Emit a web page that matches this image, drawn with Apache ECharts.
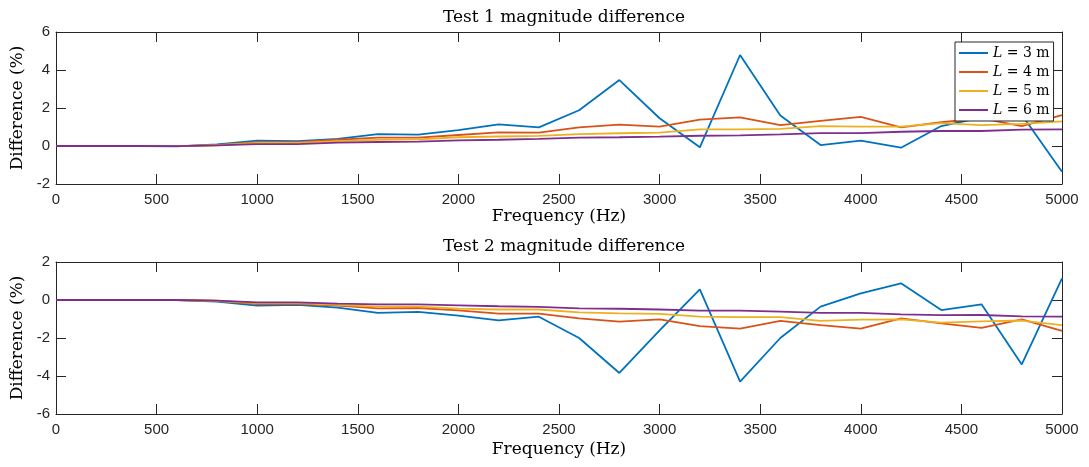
<!DOCTYPE html>
<html>
<head>
<meta charset="utf-8">
<script src="https://cdn.jsdelivr.net/npm/echarts@6/dist/echarts.min.js"></script>
<style>
html,body{margin:0;padding:0;background:#fff;}
#chart{width:1089px;height:467px;}
</style>
</head>
<body>
<div id="chart"></div>
<script>
// ---- data ----
const freqs = [0,200,400,600,800,1000,1200,1400,1600,1800,2000,2200,2400,2600,2800,3000,3200,3400,3600,3800,4000,4200,4400,4600,4800,5000];
const seriesNames = ['L = 3 m','L = 4 m','L = 5 m','L = 6 m'];
const xTicks = [0,500,1000,1500,2000,2500,3000,3500,4000,4500,5000];
const yTicksTop = [-2,0,2,4,6];
const yTicksBottom = [-6,-4,-2,0,2];

// Test 1
const t1L3 = [0,0,0,-0.02,0.08,0.28,0.26,0.38,0.63,0.6,0.84,1.14,0.98,1.88,3.47,1.46,-0.07,4.79,1.6,0.05,0.28,-0.09,1.05,1.5,1.65,-1.35];
const t1L4 = [0,0,0,-0.01,0.05,0.2,0.2,0.33,0.44,0.44,0.58,0.72,0.7,0.98,1.12,1.02,1.39,1.51,1.1,1.32,1.53,0.98,1.25,1.45,1.05,1.63];
const t1L5 = [0,0,0,-0.01,0.04,0.16,0.16,0.26,0.32,0.35,0.46,0.5,0.53,0.63,0.67,0.7,0.88,0.88,0.9,1.05,1.02,1.02,1.2,1.1,1.16,1.3];
const t1L6 = [0,0,0,-0.01,0.03,0.1,0.1,0.18,0.21,0.23,0.3,0.33,0.37,0.44,0.46,0.49,0.54,0.56,0.61,0.68,0.68,0.75,0.79,0.79,0.86,0.88];
// Test 2
const t2L3 = [0,0,0,0,-0.08,-0.3,-0.26,-0.4,-0.68,-0.62,-0.82,-1.07,-0.88,-2.0,-3.84,-1.6,0.56,-4.3,-2.0,-0.35,0.35,0.88,-0.53,-0.23,-3.39,1.14];
const t2L4 = [0,0,0,0,-0.05,-0.21,-0.2,-0.3,-0.44,-0.42,-0.55,-0.72,-0.72,-0.97,-1.14,-1.02,-1.37,-1.51,-1.1,-1.32,-1.51,-0.97,-1.23,-1.47,-1.02,-1.63];
const t2L5 = [0,0,0,0,-0.04,-0.16,-0.16,-0.26,-0.35,-0.35,-0.45,-0.5,-0.5,-0.65,-0.7,-0.73,-0.88,-0.9,-0.9,-1.1,-1.03,-1.02,-1.19,-1.12,-1.08,-1.32];
const t2L6 = [0,0,0,0,-0.03,-0.12,-0.12,-0.19,-0.23,-0.23,-0.28,-0.33,-0.36,-0.44,-0.46,-0.5,-0.56,-0.56,-0.61,-0.68,-0.68,-0.76,-0.8,-0.79,-0.86,-0.88];

const colors = ['#0072BD','#D95319','#EDB120','#7E2F8E'];
const test1 = [t1L3,t1L4,t1L5,t1L6];
const test2 = [t2L3,t2L4,t2L5,t2L6];

// ---- chart ----
const axisColor = '#262626';
const serif = 'DejaVu Serif';
const sans = 'Liberation Sans';
const grids = [
  {left:56, right:27, top:32, height:152},
  {left:56, right:27, top:262, height:152}
];
const yRanges = [[-2,6],[-6,2]];
const xNameGaps = [24, 27];

const xAxes = [], yAxes = [];
grids.forEach((g,i)=>{
  xAxes.push({
    type:'value', gridIndex:i, position:'bottom', min:0, max:5000, interval:500,
    name:'Frequency (Hz)', nameLocation:'middle', nameGap:xNameGaps[i],
    nameTextStyle:{fontFamily:serif, fontSize:17, color:'#000'},
    axisLine:{show:true, onZero:false, lineStyle:{color:axisColor, width:1}},
    axisTick:{show:true, inside:true, length:10, lineStyle:{color:axisColor}},
    axisLabel:{show:true, margin:8, fontFamily:sans, fontSize:15, color:axisColor,
      formatter:function(v){ return String(v); }},
    splitLine:{show:false}
  });
  xAxes.push({
    type:'value', gridIndex:i, position:'top', min:0, max:5000, interval:500,
    axisLine:{show:true, onZero:false, lineStyle:{color:axisColor, width:1}},
    axisTick:{show:true, inside:true, length:10, lineStyle:{color:axisColor}},
    axisLabel:{show:false}, splitLine:{show:false}
  });
  yAxes.push({
    type:'value', gridIndex:i, position:'left', min:yRanges[i][0], max:yRanges[i][1], interval:2,
    name:'Difference (%)', nameLocation:'middle', nameGap:26, nameRotate:90,
    nameTextStyle:{fontFamily:serif, fontSize:17, color:'#000'},
    axisLine:{show:true, onZero:false, lineStyle:{color:axisColor, width:1}},
    axisTick:{show:true, inside:true, length:10, lineStyle:{color:axisColor}},
    axisLabel:{show:true, margin:6, fontFamily:sans, fontSize:15, color:axisColor,
      formatter:function(v){ return String(v); }},
    splitLine:{show:false}
  });
  yAxes.push({
    type:'value', gridIndex:i, position:'right', min:yRanges[i][0], max:yRanges[i][1], interval:2,
    axisLine:{show:true, onZero:false, lineStyle:{color:axisColor, width:1}},
    axisTick:{show:true, inside:true, length:10, lineStyle:{color:axisColor}},
    axisLabel:{show:false}, splitLine:{show:false}
  });
});

const series = [];
[test1,test2].forEach((set,gi)=>{
  set.forEach((vals,k)=>{
    series.push({
      type:'line', name:seriesNames[k], xAxisIndex:gi*2, yAxisIndex:gi*2,
      data:freqs.map((f,j)=>[f, vals[j]]),
      showSymbol:false, symbol:'none',
      lineStyle:{color:colors[k], width:1.8},
      itemStyle:{color:colors[k]},
      clip:true
    });
  });
});

const chart = echarts.init(document.getElementById('chart'), null, {renderer:'canvas'});
chart.setOption({
  animation:false,
  backgroundColor:'#fff',
  title:[
    {text:'Test 1 magnitude difference', left:559, top:4, textAlign:'center',
     textStyle:{fontFamily:serif, fontSize:17, fontWeight:'normal', color:'#000'}},
    {text:'Test 2 magnitude difference', left:559, top:233, textAlign:'center',
     textStyle:{fontFamily:serif, fontSize:17, fontWeight:'normal', color:'#000'}}
  ],
  legend:{
    data:seriesNames, orient:'vertical', left:955, top:42,
    padding:[3,4,3,4], itemGap:3, itemWidth:29, itemHeight:2, icon:'rect',
    backgroundColor:'#fff', borderColor:axisColor, borderWidth:1,
    formatter:function(n){ return n.replace(/^L/, '{i|L}'); },
    textStyle:{fontFamily:serif, fontSize:14, color:'#000', lineHeight:16,
      rich:{i:{fontFamily:serif, fontStyle:'italic', fontSize:14, color:'#000', lineHeight:16}}}
  },
  grid:grids.map(g=>Object.assign({show:false}, g)),
  xAxis:xAxes,
  yAxis:yAxes,
  series:series
});
</script>
</body>
</html>
